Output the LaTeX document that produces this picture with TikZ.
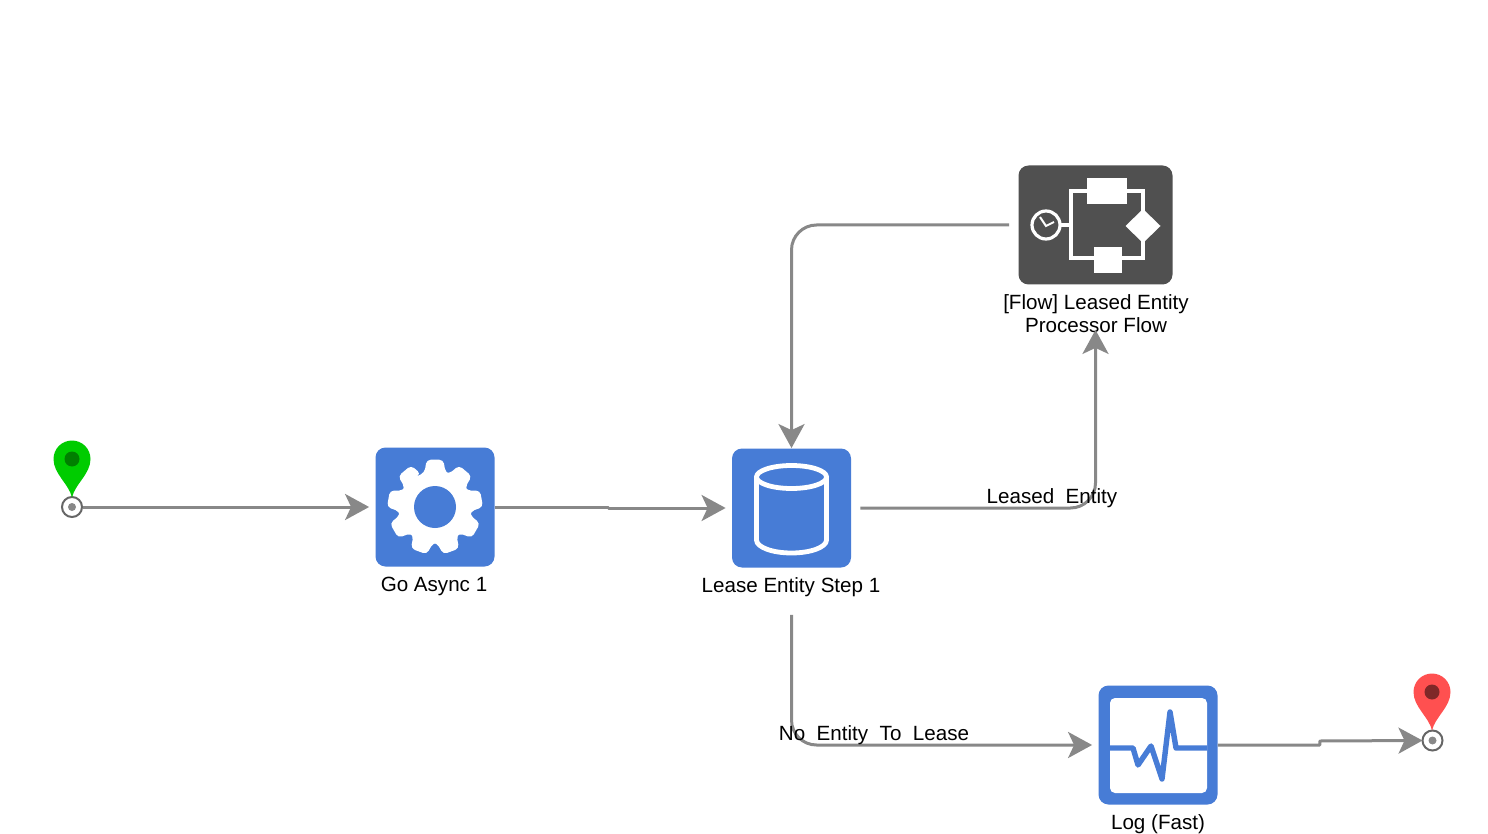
\documentclass[tikz,border=0pt]{standalone}
\usepackage{fontspec}
\setmainfont{Liberation Sans}
\usetikzlibrary{arrows.meta,calc}
\definecolor{wire}{HTML}{888888}
\definecolor{stepblue}{HTML}{477CD6}
\definecolor{flowgrey}{HTML}{505050}
\definecolor{ringgrey}{HTML}{666666}
\definecolor{pingreen}{HTML}{00CC00}
\definecolor{pingreendark}{HTML}{007F00}
\definecolor{pinred}{HTML}{FF5050}
\definecolor{pinreddark}{HTML}{7F2828}
\tikzset{
  iconbox/.style={rectangle,rounded corners=5pt,minimum width=59.5pt,minimum height=59.5pt,inner sep=0pt,fill=stepblue},
  caption/.style={inner sep=0pt,font=\fontsize{10.3pt}{11.6pt}\selectfont,align=center,text=black},
  edgelabel/.style={inner sep=0pt,font=\fontsize{10.3pt}{11.6pt}\selectfont,text=black},
  flowline/.style={draw=wire,line width=1.5pt,rounded corners=12.5pt,
    -{Stealth[length=12pt,width=13pt,inset=3pt]}},
  steppedline/.style={flowline,sharp corners,line join=round},
  event/.style={circle,minimum size=10pt,inner sep=0pt,draw=ringgrey,line width=1pt,fill=white},
  icon/.style={draw=white,line width=1.6pt}
}
\begin{document}
\begin{tikzpicture}[x=0.5pt,y=-0.5pt]
\useasboundingbox (0,0) rectangle (1488,834);
\fill[white] (0,0) rectangle (1488,834);

% activity boxes
\node[iconbox] (go) at (435,507) {};
\node[iconbox] (db) at (791.5,508) {};
\node[iconbox] (log) at (1158,745) {};
\node[iconbox,fill=flowgrey,minimum width=77pt] (flow) at (1095.5,225) {};

% captions
\node[caption] (gotext) at (434,586) {Go Async 1};
\node[caption] (dbtext) at (791,587) {Lease Entity Step 1};
\node[caption] (logtext) at (1158,824) {Log (Fast)};
\node[caption] (flowtext) at (1096,313.5) {[Flow] Leased Entity\\Processor Flow};

% start and end events
\node[event] (start) at (72,507) {};
\node[event] (finish) at (1432.5,740.5) {};
\fill[wire] (start) circle (4);
\fill[wire] (finish) circle (4);

% map pins
\foreach \px/\py/\body/\dot in {72/459/pingreen/pingreendark,1432/692/pinred/pinreddark}{
  \begin{scope}[shift={(\px,\py)}]
    \fill[\body] (0,38.5) .. controls (-3,25) and (-18.5,15) .. (-18.5,0)
      arc[start angle=180,end angle=360,radius=18.5]
      .. controls (18.5,15) and (3,25) .. cycle;
    \fill[\dot] (0,0) circle (7.5);
  \end{scope}
}

% gear
\begin{scope}[shift={(435,507)}]
  \fill[white,rounded corners=2pt] (233:36)
    \foreach \a in {270,310,350,30,70,110,150,190,230}{
      -- (\a-17:36) -- (\a-10:48) -- (\a+10:48) -- (\a+17:36)
    } -- cycle;
  \fill[stepblue] (0,0) circle (21);
\end{scope}

% database cylinder
\draw[icon,line width=2.4pt] (791.5,477) ellipse [x radius=35,y radius=11.5];
\draw[icon,line width=2.4pt,line cap=round] (756.5,477) -- (756.5,540)
  arc[start angle=180,end angle=0,x radius=35,y radius=13] -- (826.5,477);

% log trace
\fill[white,rounded corners=2.5pt] (1110,698) rectangle (1207,793);
\draw[stepblue,line width=2.7pt,line join=round]
  (1110,748) -- (1133,748) -- (1138,765) -- (1151,746) -- (1162,779)
  -- (1170,712) -- (1176,748) -- (1207,748);

% sub-flow symbol
\draw[icon] (1046,225) circle (14);
\draw[icon,line width=1pt] (1040,217) -- (1046,226) -- (1054,222);
\draw[icon] (1060,225) -- (1071,225);
\draw[icon] (1143,226) -- (1143,191) -- (1071,191) -- (1071,258) -- (1143,258) -- cycle;
\fill[white] (1087,178) rectangle (1127,204);
\fill[white] (1094,247) rectangle (1122,273);
\fill[white] (1143,209) -- (1160.5,226) -- (1143,243) -- (1125.5,226) -- cycle;

% connectors
\draw[flowline,shorten >=3pt] (start) -- (go);
\draw[steppedline,shorten >=3pt] (go.east) -- ++(114,0) -- ++(0,1) -- (db.west);
\draw[flowline,shorten <=4.5pt,shorten >=22.5pt] (db.east) -| (flow.south);
\draw[flowline,shorten <=4.5pt] (flow.west) -| (db.north);
\draw[flowline,shorten <=23.5pt,shorten >=3pt] (db.south) |- (log.west);
\draw[steppedline,shorten >=-0.5pt] (log.east) -- ++(102,0) -- ++(0,-4) -- (finish.west);

% branch labels
\node[edgelabel] (leased) at (1052,498) {Leased\ \ Entity};
\node[edgelabel] (none) at (874,735) {No\ \ Entity\ \ To\ \ Lease};
\end{tikzpicture}
\end{document}
